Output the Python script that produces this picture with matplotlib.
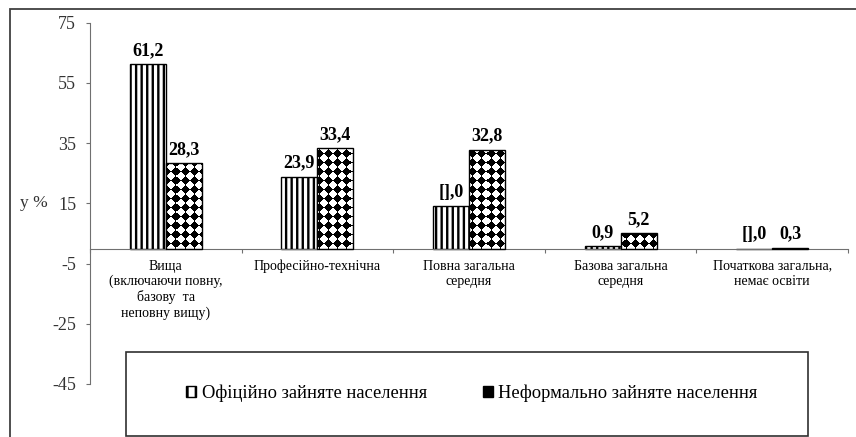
import numpy as np
import matplotlib
matplotlib.use('Agg')
import matplotlib.pyplot as plt
from matplotlib.patches import Patch, Rectangle

plt.rcParams['font.family'] = ['Liberation Serif', 'DejaVu Serif']
plt.rcParams['hatch.linewidth'] = 1.7
plt.rcParams['axes.unicode_minus'] = False

categories = ['Вища\n(включаючи повну,\nбазову  та\nнеповну вищу)',
              'Професійно-технічна',
              'Повна загальна\nсередня',
              'Базова загальна\nсередня',
              'Початкова загальна,\nнемає освіти']
official = [61.2, 23.9, 14.0, 0.9, 0.0]
informal = [28.3, 33.4, 32.8, 5.2, 0.3]
official_labels = ['61,2', '23,9', '[],0', '0,9', '[],0']
informal_labels = ['28,3', '33,4', '32,8', '5,2', '0,3']
series_names = ['Офіційно зайняте населення', 'Неформально зайняте населення']
yticks = [-45, -25, -5, 15, 35, 55, 75]

W, H = 856, 437
fig = plt.figure(figsize=(W / 100, H / 100), dpi=100)
ax = fig.add_axes([90 / W, 1 - 384 / H, 758 / W, (384 - 22.7) / H])

x = np.arange(len(categories))
bw = 0.2375

b1 = ax.bar(x - bw / 2, official, bw, facecolor='white', edgecolor='black',
            hatch='|||', linewidth=1, zorder=2)
b2 = ax.bar(x + bw / 2, informal, bw, facecolor='white', edgecolor='none', zorder=2)

# diamond texture for the informal bars
pos = ax.get_position()
pw, ph = int(round(pos.width * W)), int(round(pos.height * H))
yy, xx = np.mgrid[0:ph, 0:pw]
p = 9
u = (xx % p) - (p - 1) / 2
v = (yy % p) - (p - 1) / 2
tex = np.where(np.abs(u) + np.abs(v) <= 4.3, 0.0, 1.0)
for rect in b2.patches:
    im = ax.imshow(tex, extent=(0, 1, 0, 1), transform=ax.transAxes, cmap='gray',
                   vmin=0, vmax=1, interpolation='nearest', aspect='auto', zorder=2.5)
    im.set_clip_path(rect)
ax.bar(x + bw / 2, informal, bw, facecolor='none', edgecolor='black', linewidth=1, zorder=3)

for i in range(len(categories)):
    ax.annotate(official_labels[i], (x[i] - bw / 2, official[i]), xytext=(0, 6.5),
                textcoords='offset points', ha='center', va='baseline',
                fontsize=13, fontweight='bold')
    ax.annotate(informal_labels[i], (x[i] + bw / 2, informal[i]), xytext=(0, 6.5),
                textcoords='offset points', ha='center', va='baseline',
                fontsize=13, fontweight='bold')

ax.set_xlim(-0.5, len(categories) - 0.5)
ax.set_ylim(-45, 75)
ax.set_yticks(yticks)
ax.tick_params(axis='y', labelsize=13, length=3, color='#707070', pad=7)

ax.set_xticks(np.arange(len(categories) + 1) - 0.5)
ax.set_xticklabels([])
ax.set_xticks(x, minor=True)
ax.set_xticklabels(categories, minor=True, fontsize=11.3, color='#333333', linespacing=1.15)
ax.tick_params(axis='x', which='major', length=3, color='#707070', direction='out')
ax.tick_params(axis='x', which='minor', length=0, pad=8)

ax.spines['top'].set_visible(False)
ax.spines['right'].set_visible(False)
ax.spines['bottom'].set_position(('data', 0))
ax.spines['bottom'].set_color('#707070')
ax.spines['left'].set_color('#707070')
for lab in ax.get_yticklabels():
    lab.set_color('#333333')

ax.set_ylabel('у %', rotation=0, fontsize=12.5, color='#333333', va='center', ha='center')
ax.yaxis.set_label_coords(-0.074, (15 + 45) / 120)

# outer frame and legend box
fig.add_artist(Rectangle((10 / W, -0.1), 1.0, 1.1 - 9 / H, transform=fig.transFigure,
                         facecolor='none', edgecolor='#404040', linewidth=1.3))
fig.add_artist(Rectangle((126 / W, 1 - 436 / H), (808 - 126) / W, (436 - 352) / H,
                         transform=fig.transFigure, facecolor='none',
                         edgecolor='#303030', linewidth=1.2))

handles = [Patch(facecolor='white', edgecolor='black', hatch='||'),
           Patch(facecolor='black', edgecolor='black')]
fig.legend(handles, series_names, loc='center', bbox_to_anchor=(472 / W, 1 - 393 / H),
           ncol=2, frameon=False, fontsize=13.3, handlelength=0.55, handleheight=0.55,
           handletextpad=0.3, columnspacing=3.0)

fig.savefig('out.png', dpi=100)
